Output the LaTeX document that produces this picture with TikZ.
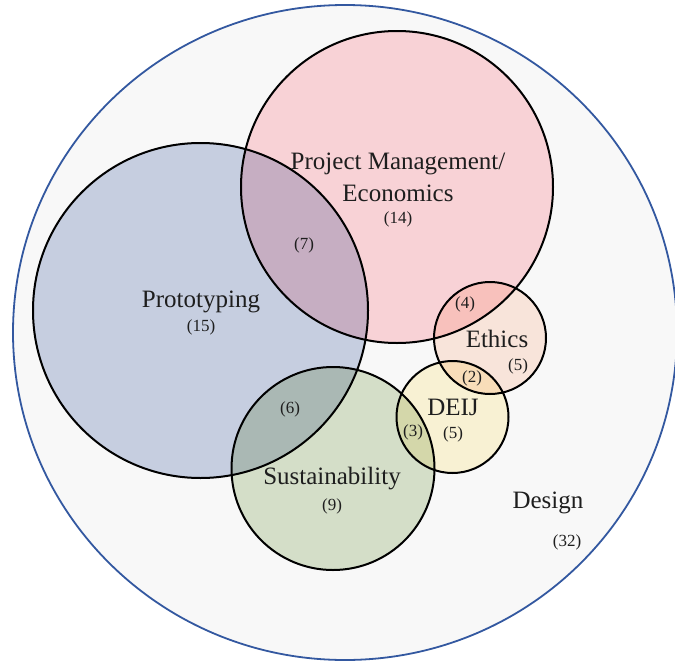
\documentclass[tikz,border=0pt]{standalone}
\usepackage{fontspec}
\setmainfont{Liberation Serif}
\usetikzlibrary{shapes.geometric}

\definecolor{designfill}{HTML}{F8F8F8}
\definecolor{designline}{HTML}{3358A0}
\definecolor{protofill}{HTML}{CCD4E7}
\definecolor{pmfill}{HTML}{FFD8DD}
\definecolor{sustfill}{HTML}{DBE5CE}
\definecolor{ethicsfill}{HTML}{FFEBE1}
\definecolor{deijfill}{HTML}{FFF8D9}
\definecolor{labeltext}{HTML}{1E1E1E}

\begin{document}
\begin{tikzpicture}[x=1pt, y=-1pt,
  venn/.style={circle, draw=black, line width=2pt, inner sep=0pt, minimum size=#1},
  biglabel/.style={text=labeltext, font=\fontsize{25}{32}\selectfont, align=center},
  count/.style={text=labeltext, font=\fontsize{17}{20}\selectfont}]
\useasboundingbox (0,0) rectangle (675,664);

% outer set
\node[ellipse, draw=designline, line width=1.8pt, fill=designfill, inner sep=0pt,
  minimum width=664pt, minimum height=655pt] (design) at (345,332.5) {};

% overlapping sets, multiplied so the overlaps darken
\begin{scope}[blend mode=multiply]
\node[venn=335pt, fill=protofill] (proto) at (200.5,310.5) {};
\node[venn=312pt, fill=pmfill] (pm) at (397,187) {};
\node[venn=203pt, fill=sustfill] (sust) at (333,468.5) {};
\node[venn=112pt, fill=ethicsfill] (ethics) at (490,338) {};
\node[venn=112pt, fill=deijfill] (deij) at (452.5,417) {};
\end{scope}

% names
\node[biglabel] (pmname) at (398,177) {Project Management/\\Economics};
\node[biglabel] (protoname) at (201,302) {Prototyping};
\node[biglabel] (ethicsname) at (497,339) {Ethics};
\node[biglabel] (deijname) at (453,407) {DEIJ};
\node[biglabel] (sustname) at (332,479) {Sustainability};
\node[biglabel] (designname) at (548,503) {Design};

% counts
\node[count] (pmcount) at (398,219.5) {(14)};
\node[count] (protocount) at (201,327) {(15)};
\node[count] (pmproto) at (304,245) {(7)};
\node[count] (pmethics) at (465,304) {(4)};
\node[count] (ethicscount) at (518,366) {(5)};
\node[count] (ethicsdeij) at (472,378) {(2)};
\node[count] (deijcount) at (453,434) {(5)};
\node[count] (deijsust) at (413,432) {(3)};
\node[count] (protosust) at (290,409) {(6)};
\node[count] (sustcount) at (332,506) {(9)};
\node[count] (designcount) at (567,542) {(32)};
\end{tikzpicture}
\end{document}
